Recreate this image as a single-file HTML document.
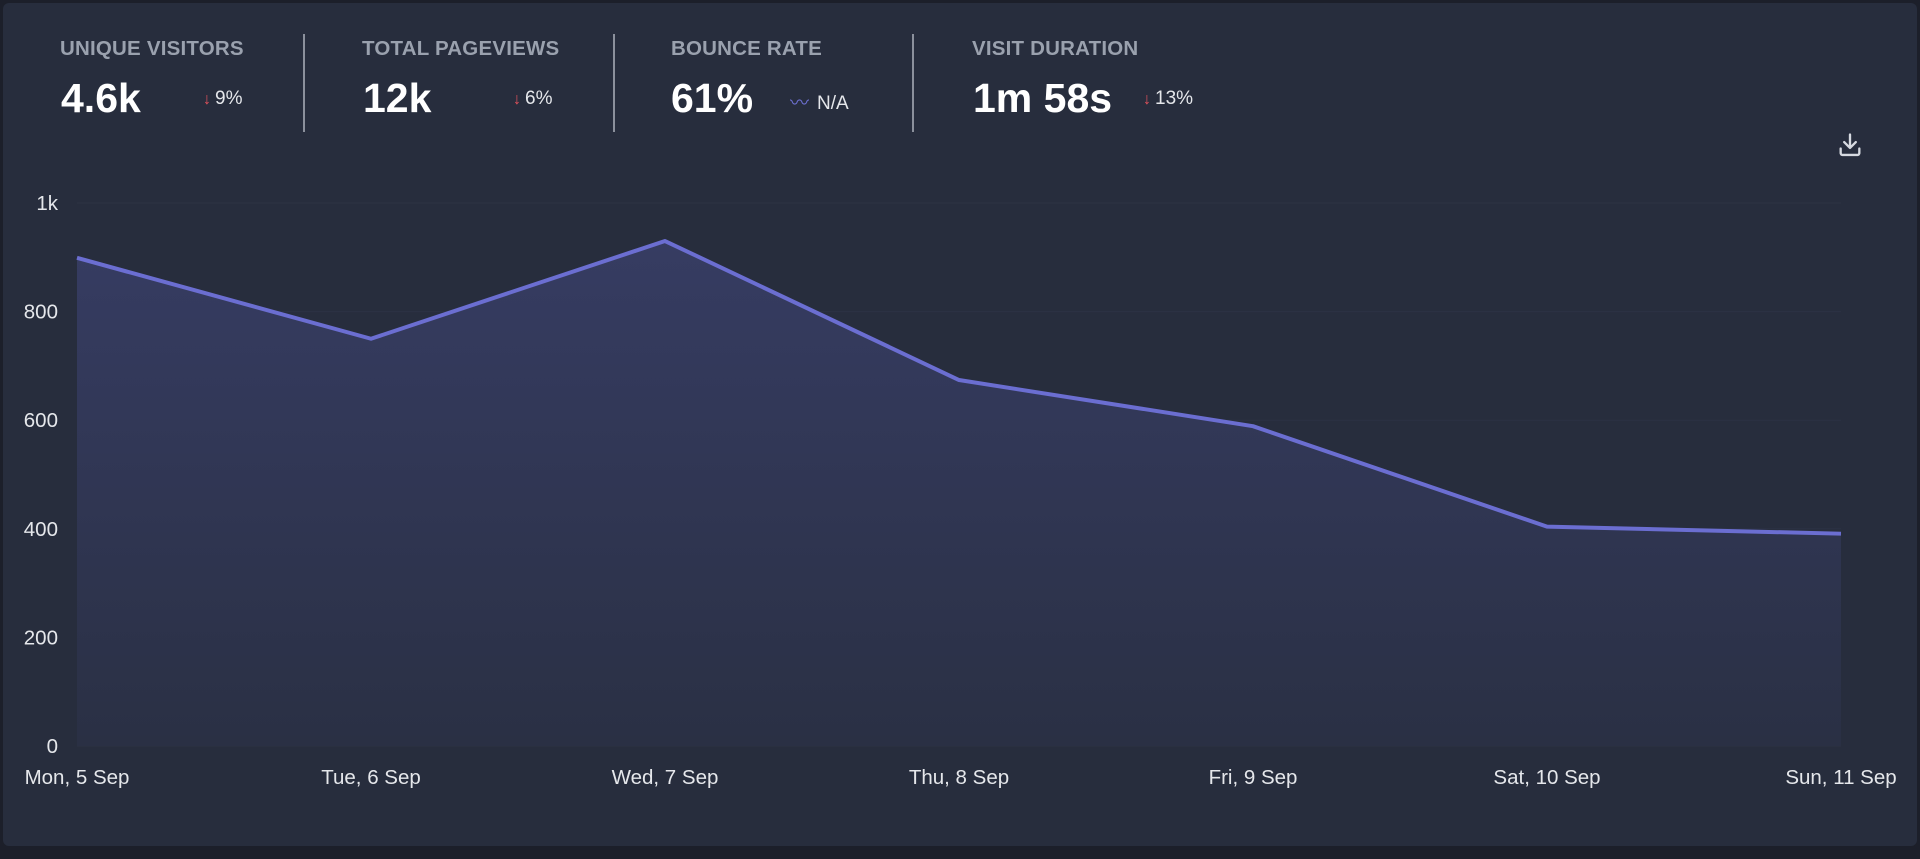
<!DOCTYPE html>
<html><head><meta charset="utf-8"><style>
html,body{margin:0;padding:0;width:1920px;height:859px;background:#1c1f2a;overflow:hidden;font-family:"Liberation Sans",sans-serif}
#card{position:absolute;left:3px;top:3px;width:1914px;height:843px;background:#272d3d;border-radius:6px}
.lbl{position:absolute;top:34px;font-size:20.5px;font-weight:bold;color:#9aa1ae;white-space:nowrap;letter-spacing:0.2px}
.val{position:absolute;top:72px;font-size:41px;font-weight:bold;color:#fff;white-space:nowrap}
.chg{position:absolute;top:85px;font-size:19px;color:#e5e7eb;white-space:nowrap}
.arr{color:#e0525c;font-size:16px;margin-right:4px}
.div{position:absolute;top:31px;width:2px;height:98px;background:#8b909c}
</style></head><body>
<div id="card">
<div class="lbl" style="left:57px">UNIQUE VISITORS</div>
<div class="val" style="left:58px">4.6k</div>
<div class="chg" style="left:200px"><span class="arr">↓</span>9%</div>
<div class="div" style="left:300px"></div>
<div class="lbl" style="left:359px">TOTAL PAGEVIEWS</div>
<div class="val" style="left:360px">12k</div>
<div class="chg" style="left:510px"><span class="arr">↓</span>6%</div>
<div class="div" style="left:610px"></div>
<div class="lbl" style="left:668px">BOUNCE RATE</div>
<div class="val" style="left:668px">61%</div>
<div class="chg" style="left:787px"><span style="color:#6c6fd0;margin-right:8px">〰</span>N/A</div>
<div class="div" style="left:909px"></div>
<div class="lbl" style="left:969px">VISIT DURATION</div>
<div class="val" style="left:970px">1m 58s</div>
<div class="chg" style="left:1140px"><span class="arr">↓</span>13%</div>
<svg style="position:absolute;left:1833px;top:128px" width="28" height="28" viewBox="0 0 24 24"><path d="M12 3v11M7 9.5l5 5 5-5M4 15v4a1.5 1.5 0 0 0 1.5 1.5h13A1.5 1.5 0 0 0 20 19v-4" fill="none" stroke="#d6d9e0" stroke-width="2" stroke-linecap="round" stroke-linejoin="round"/></svg>
</div>
<svg id="chart" style="position:absolute;left:0;top:0" width="1920" height="859">
<defs><linearGradient id="g" x1="0" y1="0" x2="0" y2="1"><stop offset="0" stop-color="#363c62"/><stop offset="1" stop-color="#2a3044"/></linearGradient></defs>
</svg>
<script>
const categories=["Mon, 5 Sep","Tue, 6 Sep","Wed, 7 Sep","Thu, 8 Sep","Fri, 9 Sep","Sat, 10 Sep","Sun, 11 Sep"];
const visitors=[899,750,930,674,589,404,391];
const yTicks=[0,200,400,600,800,1000];
const yTickLabels=["0","200","400","600","800","1k"];
const NS="http://www.w3.org/2000/svg";
const svg=document.getElementById('chart');
const x0=77,x1=1841,yb=746,yt=203,ymax=1000;
const xs=i=>x0+(x1-x0)*i/(categories.length-1);
const ys=v=>yb-(yb-yt)*v/ymax;
function mk(t,a){const e=document.createElementNS(NS,t);for(const k in a)e.setAttribute(k,a[k]);svg.appendChild(e);return e;}
yTicks.forEach((v,i)=>{
  const l=mk('line',{x1:x0,x2:x1,y1:ys(v),y2:ys(v),stroke:'#2c3244','stroke-width':1});
  
  
  const t=mk('text',{x:58,y:ys(v)+7,'text-anchor':'end',fill:'#e5e7eb','font-size':20.5,'font-family':'Liberation Sans, sans-serif'});
  t.textContent=yTickLabels[i];
  
  
});
let d='';visitors.forEach((v,i)=>{d+=(i?'L':'M')+xs(i)+' '+ys(v);});
const area=mk('path',{d:d+'L'+xs(visitors.length-1)+' '+yb+'L'+x0+' '+yb+'Z',fill:'url(#g)'});


const line=mk('path',{d:d,fill:'none',stroke:'#6b6ed1','stroke-width':4,'stroke-linejoin':'round'});


categories.forEach((c,i)=>{
  const t=mk('text',{x:xs(i),y:784,'text-anchor':'middle',fill:'#e5e7eb','font-size':20.5,'font-family':'Liberation Sans, sans-serif'});
  t.textContent=c;
  
  
});
</script>
</body></html>
